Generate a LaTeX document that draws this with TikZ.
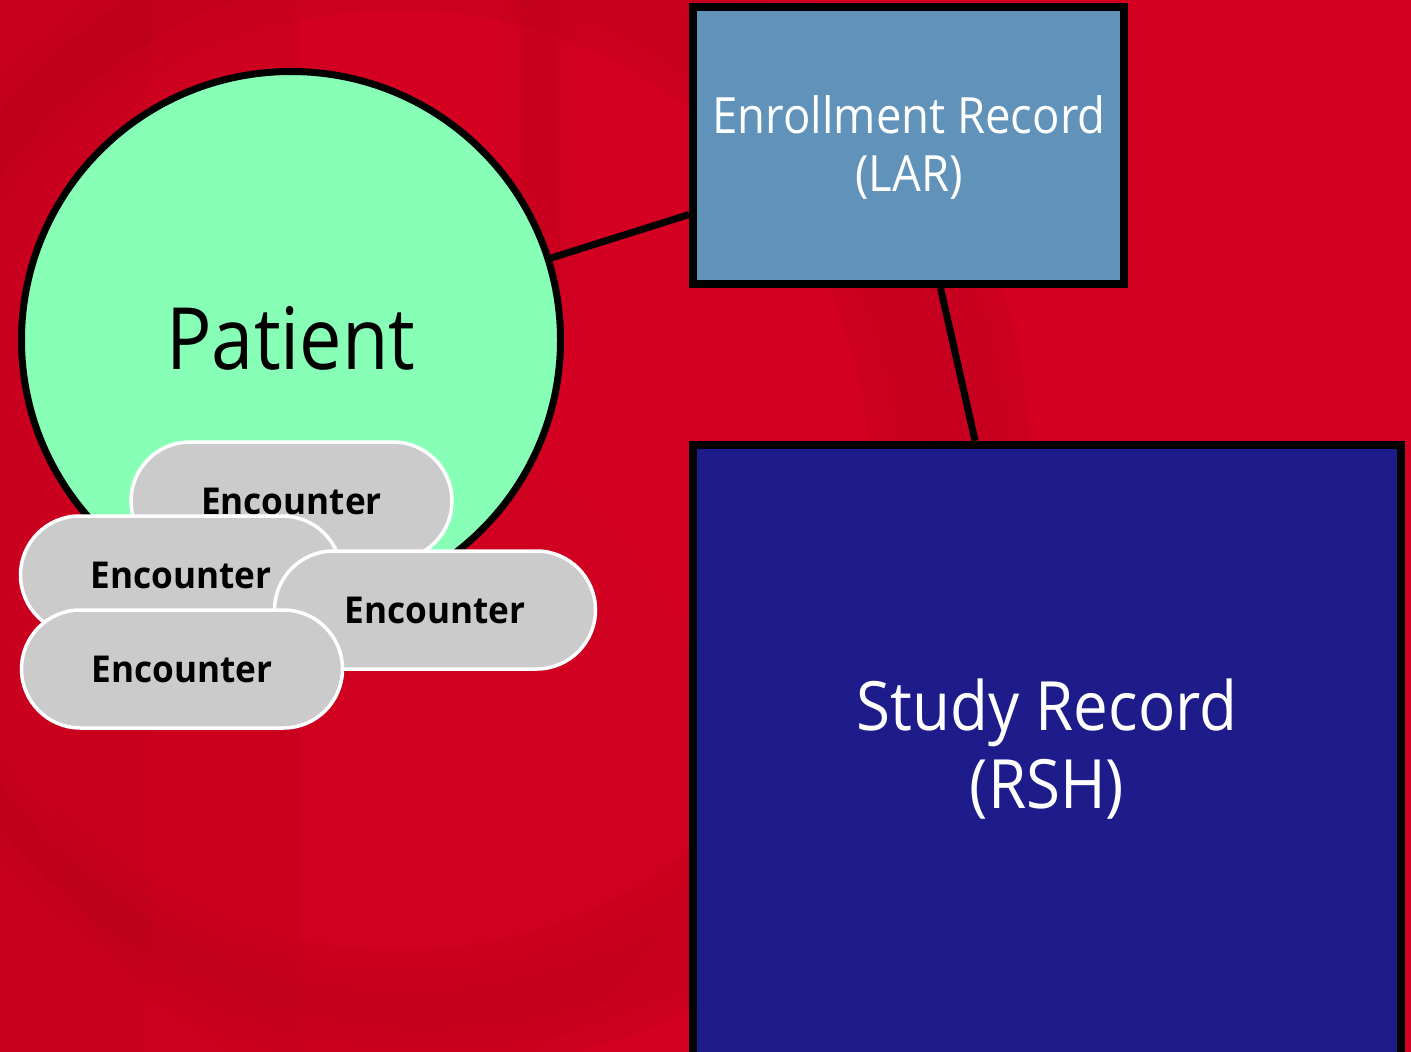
\documentclass[tikz,border=0pt]{standalone}
\usepackage{fontspec}
\setmainfont{Open Sans}
\newfontfamily\segreg[FakeStretch=0.88]{Open Sans}
\newfontfamily\segregw[FakeStretch=0.91]{Open Sans}
\newfontfamily\segbold[FakeStretch=0.95]{Open Sans Bold}
\usetikzlibrary{shapes.geometric}
\definecolor{bgred}{RGB}{211,0,33}
\definecolor{bgdark}{RGB}{140,0,18}
\definecolor{patgreen}{RGB}{136,255,183}
\definecolor{enrblue}{RGB}{96,146,186}
\definecolor{studyblue}{RGB}{30,27,138}
\definecolor{encgray}{RGB}{203,203,203}
\tikzset{
  patientnode/.style={ellipse, draw=black, line width=7pt, fill=patgreen,
    minimum width=539pt, minimum height=537pt, inner sep=0pt},
  recbox/.style={rectangle, draw=black, line width=8pt, inner sep=0pt},
  encnode/.style={rectangle, rounded corners=59pt, draw=white, line width=3.5pt,
    fill=encgray, minimum width=321pt, minimum height=118pt, inner sep=0pt,
    font={\segbold\fontsize{37}{40}\selectfont}, text=black},
  link/.style={draw=black, line width=7pt},
  whitetext/.style={text=white, align=center},
  swirl/.style={bgdark, fill opacity=0.06, even odd rule}
}
\begin{document}
\begin{tikzpicture}[x=1pt,y=-1pt]
\useasboundingbox (0,0) rectangle (1411,1052);
% background
\fill[bgred] (0,0) rectangle (1411,1052);
\begin{scope}
\clip (0,0) rectangle (1411,1052);
\fill[swirl] (430,470) circle [radius=600pt] (400,480) circle [radius=470pt];
\fill[swirl] (430,470) circle [radius=580pt] (405,480) circle [radius=490pt];
\fill[swirl] (430,470) circle [radius=560pt] (410,480) circle [radius=510pt];
\fill[bgdark, fill opacity=0.06] (0,0) rectangle (300,1052);
\fill[bgdark, fill opacity=0.05] (0,0) rectangle (150,1052);
\fill[bgdark, fill opacity=0.07] (520,0) rectangle (560,330);
\fill[bgdark, fill opacity=0.05] (500,0) rectangle (580,330);
\fill[bgred!80!black, fill opacity=0.06] (380,760) circle [radius=330pt];
\end{scope}
% main nodes
\node[patientnode] (patient) at (291,340) {};
\node[font={\segreg\fontsize{86}{90}\selectfont}] (patlabel) at (291,338) {Patient};
\node[recbox, fill=enrblue, minimum width=431pt, minimum height=277pt] (enroll) at (908.5,145.5) {};
\node[whitetext, font={\segregw\fontsize{50}{58}\selectfont}] (enrlabel) at (909,147) {Enrollment Record\\(LAR)};
\node[recbox, fill=studyblue, minimum width=708pt, minimum height=640pt] (study) at (1047,765) {};
\node[whitetext, font={\segregw\fontsize{68}{78}\selectfont}] (studylabel) at (1047,749) {Study Record\\(RSH)};
% connectors
\draw[link] (patient) -- (enroll);
\draw[link] (enroll) -- (study);
% encounters
\node[encnode] (enc1) at (291.5,501) {Encounter};
\node[encnode] (enc2) at (181,575) {Encounter};
\node[encnode] (enc3) at (435,610) {Encounter};
\node[encnode] (enc4) at (182,669) {Encounter};
\end{tikzpicture}
\end{document}
